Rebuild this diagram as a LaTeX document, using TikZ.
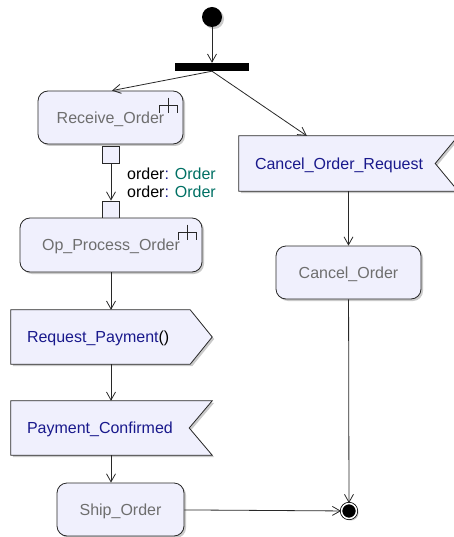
\documentclass[tikz,border=0pt]{standalone}
\usepackage{fontspec}
\setsansfont{Liberation Sans}
\usepackage{xcolor}
\usetikzlibrary{positioning,arrows.meta,shadows,backgrounds}
\definecolor{actfill}{RGB}{240,240,253}
\definecolor{acttext}{RGB}{110,110,110}
\definecolor{sigtext}{RGB}{25,25,140}
\definecolor{typetext}{RGB}{0,112,100}
\definecolor{linecol}{RGB}{40,40,40}
\tikzset{
    soft shadow/.style={drop shadow={shadow xshift=2pt, shadow yshift=-2pt, fill=black!35, opacity=0.6}},
    action/.style={rectangle, rounded corners=10pt, draw=linecol, line width=0.8pt, fill=actfill, soft shadow, inner sep=0pt, text height=11.5pt, text depth=0pt, font=\sffamily\fontsize{16}{19}\selectfont, text=acttext},
    signal text/.style={rectangle, inner xsep=16pt, inner ysep=0pt, text height=11.5pt, text depth=0pt, align=left, font=\sffamily\fontsize{16}{19}\selectfont, text=sigtext},
    signal shape/.style={draw=linecol, line width=0.8pt, fill=actfill, soft shadow},
    pin/.style={rectangle, draw=linecol, line width=0.8pt, fill=actfill, minimum size=17pt, inner sep=0pt},
    fork bar/.style={rectangle, fill=black, minimum width=74pt, minimum height=8pt, inner sep=0pt},
    start node/.style={circle, fill=black, minimum size=20pt, inner sep=0pt, soft shadow},
    end node/.style={circle, fill=black, draw=black, line width=0.8pt, double=white, double distance=1.5pt, minimum size=15pt, inner sep=0pt, soft shadow},
    flow/.style={-{Straight Barb[length=8pt,width=9pt]}, draw=linecol, line width=0.8pt},
    pin label/.style={align=left, inner sep=0pt, font=\sffamily\fontsize{16}{18}\selectfont},
    rake sym/.pic={
        \draw[linecol, line width=0.8pt] (-24,22) -- (-24,15) -- (-6,15) -- (-6,22);
        \draw[linecol, line width=0.8pt] (-15,7) -- (-15,22);
    }
}

\begin{document}
\begin{tikzpicture}[x=1pt, y=-1pt]
    \useasboundingbox (0,0) rectangle (454,537);

    % Start and fork
    \node[start node] (init) at (212,17) {};
    \node[fork bar] (fork) at (212,67) {};

    % Left branch
    \node[action, minimum width=145pt, minimum height=53pt] (recv) at (110.5,117.5) {Receive\_Order};
    \pic at (recv.north east) {rake sym};
    \node[pin] (pinout) at (111,154.5) {};
    \node[pin] (pinin) at (111,209.5) {};
    \node[pin label, anchor=west] (pinlbl) at (127,182.5)
        {order\textcolor{sigtext}{:} \textcolor{typetext}{Order}\\order\textcolor{sigtext}{:} \textcolor{typetext}{Order}};
    \node[action, minimum width=182pt, minimum height=54pt] (opproc) at (111,245) {Op\_Process\_Order};
    \pic at (opproc.north east) {rake sym};

    % Signals
    \node[signal text, minimum width=201pt, minimum height=54pt, text width=169pt] (reqpay) at (111.5,337)
        {Request\_Payment\textcolor{black}{()}};
    \node[signal text, minimum width=201pt, minimum height=54pt, text width=169pt] (paycon) at (111.5,428)
        {Payment\_Confirmed};
    \node[action, minimum width=127pt, minimum height=53pt] (ship) at (120.5,509.5) {Ship\_Order};

    % Right branch
    \node[signal text, minimum width=219pt, minimum height=55pt, text width=187pt] (cor) at (348.5,163.5)
        {Cancel\_Order\_Request};
    \node[action, minimum width=145pt, minimum height=53pt] (cancel) at (348.5,272.5) {Cancel\_Order};
    \node[end node] (final) at (349,511) {};

    % Signal outlines behind the text
    \begin{scope}[on background layer]
        \path[signal shape] (reqpay.north west) -- ([xshift=-22pt]reqpay.north east) -- (reqpay.east)
            -- ([xshift=-22pt]reqpay.south east) -- (reqpay.south west) -- cycle;
        \path[signal shape] (paycon.north west) -- (paycon.north east) -- ([xshift=-23pt]paycon.east)
            -- (paycon.south east) -- (paycon.south west) -- cycle;
        \path[signal shape] (cor.north west) -- (cor.north east) -- ([xshift=-23pt]cor.east)
            -- (cor.south east) -- (cor.south west) -- cycle;
    \end{scope}

    % Edges
    \draw[flow] (init) -- (fork);
    \draw[flow] (fork.south) -- ([xshift=1.5pt]recv.north);
    \draw[flow] (fork.south) -- ([xshift=68pt]cor.north west);
    \draw[flow] (pinout) -- (pinin);
    \draw[flow] (opproc) -- (opproc |- reqpay.north);
    \draw[flow] (opproc |- reqpay.south) -- (opproc |- paycon.north);
    \draw[flow] (opproc |- paycon.south) -- (opproc |- ship.north);
    \draw[flow] (cor) -- (cancel);
    \draw[flow] (cancel) -- (final);
    \draw[flow] (ship) -- (final);
\end{tikzpicture}
\end{document}
